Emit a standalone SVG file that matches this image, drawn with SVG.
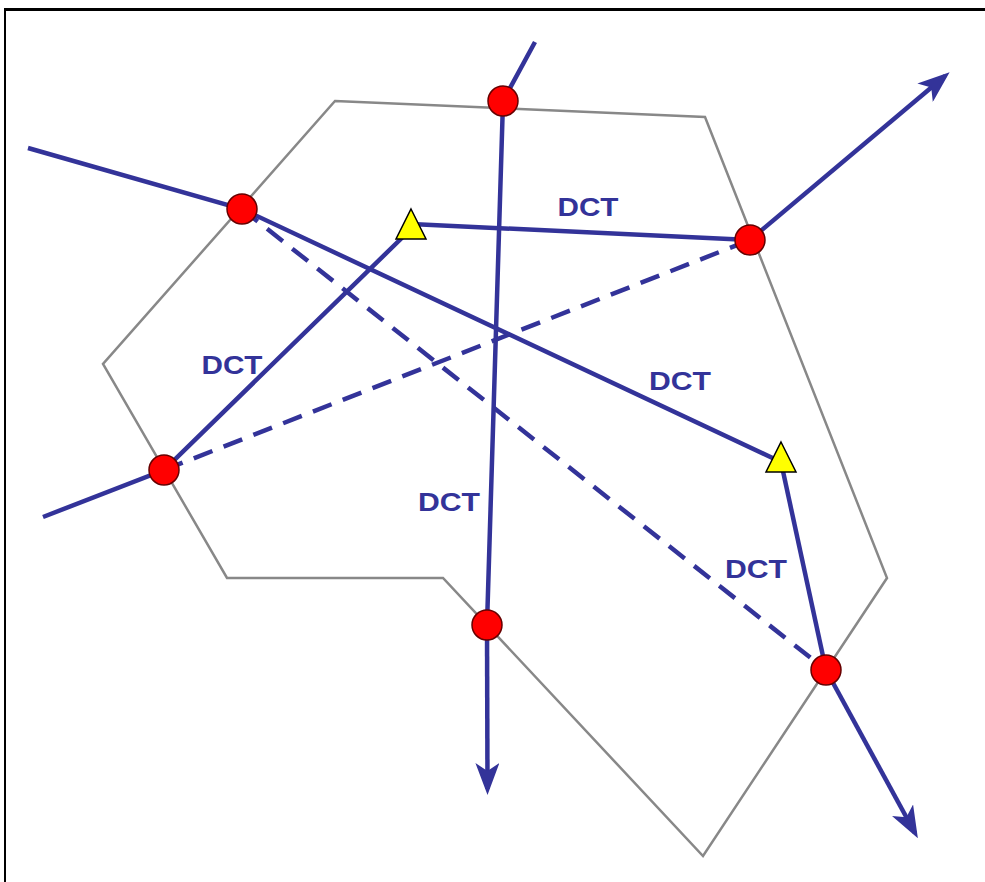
<svg xmlns="http://www.w3.org/2000/svg" width="985" height="882" viewBox="0 0 985 882">
<style>
.route{fill:none;stroke:#333399;stroke-width:4.5;stroke-linecap:butt}
.dash{stroke-dasharray:20 12}
.wp{fill:#ff0000;stroke:#660000;stroke-width:1.5}
.fix{fill:#ffff00;stroke:#000000;stroke-width:1.5;stroke-linejoin:miter}
.lbl{font-family:"Liberation Sans",Arial,sans-serif;font-weight:bold;font-size:25px;fill:#333399;text-anchor:middle}
</style>
<defs>
<marker id="arr" viewBox="0 0 32 24" refX="26" refY="12" markerWidth="32" markerHeight="24" markerUnits="userSpaceOnUse" orient="auto">
<path d="M0,0 L32,12 L0,24 L8,12 z" fill="#333399"/>
</marker>
</defs>
<rect width="985" height="882" fill="#ffffff"/>
<g id="frame">
<line x1="4" y1="9.5" x2="985" y2="9.5" stroke="#000" stroke-width="3"/>
<line x1="5" y1="8" x2="5" y2="882" stroke="#000" stroke-width="2"/>
</g>
<g id="sector">
<polygon points="335,101 705,117 887,578 703,856 443,578 227,578 103,364" fill="none" stroke="#888888" stroke-width="2.5" stroke-linejoin="miter"/>
</g>
<g id="connectors">
<polyline class="route" points="535,42 503,101 487,625"/>
<line class="route" x1="487" y1="625" x2="487.5" y2="789" marker-end="url(#arr)"/>
<polyline class="route" points="28,148 242,209 781,462"/>
<line class="route" x1="411" y1="224" x2="750" y2="240"/>
<line class="route" x1="750" y1="240" x2="945" y2="76" marker-end="url(#arr)"/>
<polyline class="route" points="43,517 164,470 411,229"/>
<line class="route dash" x1="164" y1="470" x2="750" y2="240"/>
<line class="route dash" x1="242" y1="209" x2="826" y2="670"/>
<line class="route" x1="781" y1="462" x2="826" y2="670"/>
<line class="route" x1="826" y1="670" x2="915" y2="833" marker-end="url(#arr)"/>
</g>
<g id="labels">
<text class="lbl" x="588" y="216" textLength="61" lengthAdjust="spacingAndGlyphs">DCT</text>
<text class="lbl" x="232" y="374" textLength="61" lengthAdjust="spacingAndGlyphs">DCT</text>
<text class="lbl" x="449" y="511" textLength="62" lengthAdjust="spacingAndGlyphs">DCT</text>
<text class="lbl" x="680" y="390" textLength="62" lengthAdjust="spacingAndGlyphs">DCT</text>
<text class="lbl" x="756" y="578" textLength="62" lengthAdjust="spacingAndGlyphs">DCT</text>
</g>
<g id="wp1"><circle class="wp" cx="503" cy="101" r="15"/></g>
<g id="wp2"><circle class="wp" cx="242" cy="209" r="15"/></g>
<g id="wp3"><circle class="wp" cx="750" cy="240" r="15"/></g>
<g id="wp4"><circle class="wp" cx="164" cy="470" r="15"/></g>
<g id="wp5"><circle class="wp" cx="487" cy="625" r="15"/></g>
<g id="wp6"><circle class="wp" cx="826" cy="670" r="15"/></g>
<g id="fix1"><polygon class="fix" points="411,209 426,239 396,239"/></g>
<g id="fix2"><polygon class="fix" points="781,442 796,472 766,472"/></g>
</svg>
